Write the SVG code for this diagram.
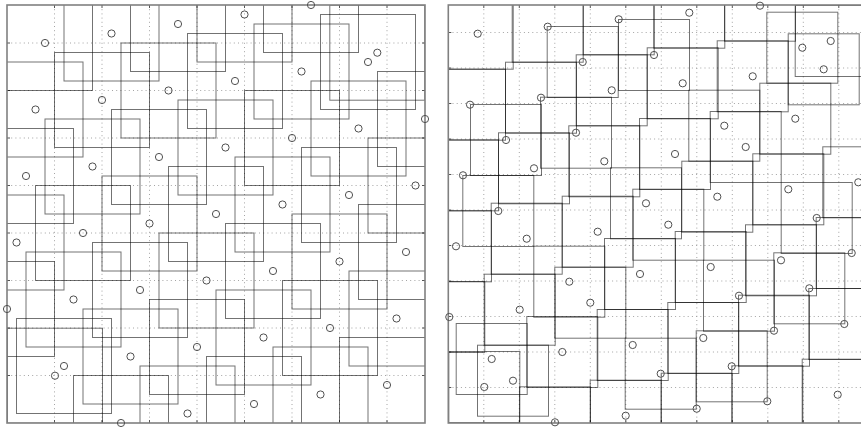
<svg xmlns="http://www.w3.org/2000/svg" xmlns:xlink="http://www.w3.org/1999/xlink" width="861" height="427" viewBox="0 0 861 427">
<style>
.grid{fill:none;stroke:#9a9a9a;stroke-width:0.9;stroke-dasharray:1 3.2}
.frame{fill:none;stroke:#808080;stroke-width:1.6}
.tick{fill:none;stroke:#555;stroke-width:1}
.sq{fill:none;stroke:#000;stroke-opacity:0.55;stroke-width:1}
.pt{fill:none;stroke:#505050;stroke-width:1}
</style>
<defs>
<clipPath id="clipL"><rect x="7" y="5" width="418" height="418"/></clipPath>
<clipPath id="clipR"><rect x="448.3" y="5" width="418" height="418"/></clipPath>
<rect id="sL" x="-47.5" y="-47.5" width="95" height="95"/>
<rect id="sR" x="-35.5" y="-35.5" width="71" height="71"/>
<circle id="c" cx="0" cy="0" r="3.6"/>
</defs>
<rect width="861" height="427" fill="#fff"/>

<!-- LEFT PANEL -->
<g id="left-panel">
<path class="grid" d="M54.5 5V423M102 5V423M149.5 5V423M197 5V423M244.5 5V423M292 5V423M339.5 5V423M387 5V423M7 375.5H425M7 328H425M7 280.5H425M7 233H425M7 185.5H425M7 138H425M7 90.5H425M7 43H425"/>
<path class="tick" d="M54.5 423v-3M102 423v-3M149.5 423v-3M197 423v-3M244.5 423v-3M292 423v-3M339.5 423v-3M387 423v-3M54.5 5v3M102 5v3M149.5 5v3M197 5v3M244.5 5v3M292 5v3M339.5 5v3M387 5v3M7 375.5h3M7 328h3M7 280.5h3M7 233h3M7 185.5h3M7 138h3M7 90.5h3M7 43h3M425 375.5h-3M425 328h-3M425 280.5h-3M425 233h-3M425 185.5h-3M425 138h-3M425 90.5h-3M425 43h-3"/>
<g class="sq" clip-path="url(#clipL)">
<use xlink:href="#sL" x="45" y="43"/><use xlink:href="#sL" x="35.5" y="109.5"/><use xlink:href="#sL" x="26" y="176"/><use xlink:href="#sL" x="16.5" y="242.5"/><use xlink:href="#sL" x="7" y="309"/>
<use xlink:href="#sL" x="111.5" y="33.5"/><use xlink:href="#sL" x="102" y="100"/><use xlink:href="#sL" x="92.5" y="166.5"/><use xlink:href="#sL" x="83" y="233"/><use xlink:href="#sL" x="73.5" y="299.5"/><use xlink:href="#sL" x="64" y="366"/>
<use xlink:href="#sL" x="178" y="24"/><use xlink:href="#sL" x="168.5" y="90.5"/><use xlink:href="#sL" x="159" y="157"/><use xlink:href="#sL" x="149.5" y="223.5"/><use xlink:href="#sL" x="140" y="290"/><use xlink:href="#sL" x="130.5" y="356.5"/><use xlink:href="#sL" x="121" y="423"/>
<use xlink:href="#sL" x="244.5" y="14.5"/><use xlink:href="#sL" x="235" y="81"/><use xlink:href="#sL" x="225.5" y="147.5"/><use xlink:href="#sL" x="216" y="214"/><use xlink:href="#sL" x="206.5" y="280.5"/><use xlink:href="#sL" x="197" y="347"/><use xlink:href="#sL" x="187.5" y="413.5"/>
<use xlink:href="#sL" x="311" y="5"/><use xlink:href="#sL" x="301.5" y="71.5"/><use xlink:href="#sL" x="292" y="138"/><use xlink:href="#sL" x="282.5" y="204.5"/><use xlink:href="#sL" x="273" y="271"/><use xlink:href="#sL" x="263.5" y="337.5"/><use xlink:href="#sL" x="254" y="404"/>
<use xlink:href="#sL" x="368" y="62"/><use xlink:href="#sL" x="358.5" y="128.5"/><use xlink:href="#sL" x="349" y="195"/><use xlink:href="#sL" x="339.5" y="261.5"/><use xlink:href="#sL" x="330" y="328"/><use xlink:href="#sL" x="320.5" y="394.5"/>
<use xlink:href="#sL" x="425" y="119"/><use xlink:href="#sL" x="415.5" y="185.5"/><use xlink:href="#sL" x="406" y="252"/><use xlink:href="#sL" x="396.5" y="318.5"/><use xlink:href="#sL" x="387" y="385"/>
<use xlink:href="#sL" x="377.3" y="52.7"/><use xlink:href="#sL" x="55" y="375.7"/>
</g>
<rect class="frame" x="7" y="5" width="418" height="418"/>
<g class="pt">
<use xlink:href="#c" x="45" y="43"/><use xlink:href="#c" x="35.5" y="109.5"/><use xlink:href="#c" x="26" y="176"/><use xlink:href="#c" x="16.5" y="242.5"/><use xlink:href="#c" x="7" y="309"/>
<use xlink:href="#c" x="111.5" y="33.5"/><use xlink:href="#c" x="102" y="100"/><use xlink:href="#c" x="92.5" y="166.5"/><use xlink:href="#c" x="83" y="233"/><use xlink:href="#c" x="73.5" y="299.5"/><use xlink:href="#c" x="64" y="366"/>
<use xlink:href="#c" x="178" y="24"/><use xlink:href="#c" x="168.5" y="90.5"/><use xlink:href="#c" x="159" y="157"/><use xlink:href="#c" x="149.5" y="223.5"/><use xlink:href="#c" x="140" y="290"/><use xlink:href="#c" x="130.5" y="356.5"/><use xlink:href="#c" x="121" y="423"/>
<use xlink:href="#c" x="244.5" y="14.5"/><use xlink:href="#c" x="235" y="81"/><use xlink:href="#c" x="225.5" y="147.5"/><use xlink:href="#c" x="216" y="214"/><use xlink:href="#c" x="206.5" y="280.5"/><use xlink:href="#c" x="197" y="347"/><use xlink:href="#c" x="187.5" y="413.5"/>
<use xlink:href="#c" x="311" y="5"/><use xlink:href="#c" x="301.5" y="71.5"/><use xlink:href="#c" x="292" y="138"/><use xlink:href="#c" x="282.5" y="204.5"/><use xlink:href="#c" x="273" y="271"/><use xlink:href="#c" x="263.5" y="337.5"/><use xlink:href="#c" x="254" y="404"/>
<use xlink:href="#c" x="368" y="62"/><use xlink:href="#c" x="358.5" y="128.5"/><use xlink:href="#c" x="349" y="195"/><use xlink:href="#c" x="339.5" y="261.5"/><use xlink:href="#c" x="330" y="328"/><use xlink:href="#c" x="320.5" y="394.5"/>
<use xlink:href="#c" x="425" y="119"/><use xlink:href="#c" x="415.5" y="185.5"/><use xlink:href="#c" x="406" y="252"/><use xlink:href="#c" x="396.5" y="318.5"/><use xlink:href="#c" x="387" y="385"/>
<use xlink:href="#c" x="377.3" y="52.7"/><use xlink:href="#c" x="55" y="375.7"/>
</g>
</g>

<!-- RIGHT PANEL -->
<g id="right-panel">
<path class="grid" d="M483.8 5V423M519.3 5V423M554.8 5V423M590.3 5V423M625.8 5V423M661.3 5V423M696.8 5V423M732.3 5V423M767.8 5V423M803.3 5V423M838.8 5V423M448.3 387.5H866M448.3 352H866M448.3 316.5H866M448.3 281H866M448.3 245.5H866M448.3 210H866M448.3 174.5H866M448.3 139H866M448.3 103.5H866M448.3 68H866M448.3 32.5H866"/>
<path class="tick" d="M483.8 423v-3M519.3 423v-3M554.8 423v-3M590.3 423v-3M625.8 423v-3M661.3 423v-3M696.8 423v-3M732.3 423v-3M767.8 423v-3M803.3 423v-3M838.8 423v-3M483.8 5v3M519.3 5v3M554.8 5v3M590.3 5v3M625.8 5v3M661.3 5v3M696.8 5v3M732.3 5v3M767.8 5v3M803.3 5v3M838.8 5v3M448.3 387.5h3M448.3 352h3M448.3 316.5h3M448.3 281h3M448.3 245.5h3M448.3 210h3M448.3 174.5h3M448.3 139h3M448.3 103.5h3M448.3 68h3M448.3 32.5h3"/>
<g class="sq" clip-path="url(#clipR)">
<use xlink:href="#sR" x="477.7" y="33.7"/><use xlink:href="#sR" x="547.7" y="26.7"/><use xlink:href="#sR" x="618.7" y="19.3"/><use xlink:href="#sR" x="582.7" y="62"/><use xlink:href="#sR" x="611.7" y="90.3"/><use xlink:href="#sR" x="541" y="97.7"/><use xlink:href="#sR" x="470" y="104.7"/><use xlink:href="#sR" x="576" y="132.7"/><use xlink:href="#sR" x="506" y="140"/><use xlink:href="#sR" x="604.3" y="161.3"/><use xlink:href="#sR" x="534" y="168.3"/><use xlink:href="#sR" x="463" y="175.3"/><use xlink:href="#sR" x="498.3" y="211"/><use xlink:href="#sR" x="646" y="203.3"/>
<use xlink:href="#sR" x="689.3" y="12.7"/><use xlink:href="#sR" x="760" y="5.7"/><use xlink:href="#sR" x="654" y="55"/><use xlink:href="#sR" x="682.7" y="83.3"/><use xlink:href="#sR" x="752.7" y="76.3"/><use xlink:href="#sR" x="802.3" y="47.7"/><use xlink:href="#sR" x="830.7" y="41"/><use xlink:href="#sR" x="823.7" y="69.3"/><use xlink:href="#sR" x="724.3" y="125.7"/><use xlink:href="#sR" x="795.3" y="118.7"/><use xlink:href="#sR" x="745.7" y="147"/><use xlink:href="#sR" x="675" y="154"/><use xlink:href="#sR" x="717.3" y="196.7"/><use xlink:href="#sR" x="788.3" y="189.3"/><use xlink:href="#sR" x="858.3" y="182.3"/>
<use xlink:href="#sR" x="526.7" y="238.7"/><use xlink:href="#sR" x="597.7" y="231.7"/><use xlink:href="#sR" x="456" y="246.3"/><use xlink:href="#sR" x="640" y="274"/><use xlink:href="#sR" x="569.3" y="281.7"/><use xlink:href="#sR" x="590.3" y="302.7"/><use xlink:href="#sR" x="519.7" y="309.7"/><use xlink:href="#sR" x="449.3" y="317"/><use xlink:href="#sR" x="632.7" y="345"/><use xlink:href="#sR" x="562.3" y="352"/><use xlink:href="#sR" x="491.7" y="359"/><use xlink:href="#sR" x="513" y="380.7"/><use xlink:href="#sR" x="484.3" y="387"/><use xlink:href="#sR" x="555" y="422.3"/><use xlink:href="#sR" x="625.7" y="415.7"/>
<use xlink:href="#sR" x="668.3" y="224.7"/><use xlink:href="#sR" x="816.7" y="218"/><use xlink:href="#sR" x="851.7" y="253"/><use xlink:href="#sR" x="781" y="260.3"/><use xlink:href="#sR" x="710.7" y="267"/><use xlink:href="#sR" x="809.3" y="288.3"/><use xlink:href="#sR" x="739" y="295.7"/><use xlink:href="#sR" x="844.3" y="324"/><use xlink:href="#sR" x="774" y="330.7"/><use xlink:href="#sR" x="703.3" y="338"/><use xlink:href="#sR" x="660.7" y="373.7"/><use xlink:href="#sR" x="731.7" y="366.3"/><use xlink:href="#sR" x="767.3" y="401.3"/><use xlink:href="#sR" x="696.7" y="408.7"/><use xlink:href="#sR" x="837.7" y="394.7"/>
</g>
<rect class="frame" x="448.3" y="5" width="418" height="418"/>
<g class="pt">
<use xlink:href="#c" x="477.7" y="33.7"/><use xlink:href="#c" x="547.7" y="26.7"/><use xlink:href="#c" x="618.7" y="19.3"/><use xlink:href="#c" x="582.7" y="62"/><use xlink:href="#c" x="611.7" y="90.3"/><use xlink:href="#c" x="541" y="97.7"/><use xlink:href="#c" x="470" y="104.7"/><use xlink:href="#c" x="576" y="132.7"/><use xlink:href="#c" x="506" y="140"/><use xlink:href="#c" x="604.3" y="161.3"/><use xlink:href="#c" x="534" y="168.3"/><use xlink:href="#c" x="463" y="175.3"/><use xlink:href="#c" x="498.3" y="211"/><use xlink:href="#c" x="646" y="203.3"/>
<use xlink:href="#c" x="689.3" y="12.7"/><use xlink:href="#c" x="760" y="5.7"/><use xlink:href="#c" x="654" y="55"/><use xlink:href="#c" x="682.7" y="83.3"/><use xlink:href="#c" x="752.7" y="76.3"/><use xlink:href="#c" x="802.3" y="47.7"/><use xlink:href="#c" x="830.7" y="41"/><use xlink:href="#c" x="823.7" y="69.3"/><use xlink:href="#c" x="724.3" y="125.7"/><use xlink:href="#c" x="795.3" y="118.7"/><use xlink:href="#c" x="745.7" y="147"/><use xlink:href="#c" x="675" y="154"/><use xlink:href="#c" x="717.3" y="196.7"/><use xlink:href="#c" x="788.3" y="189.3"/><use xlink:href="#c" x="858.3" y="182.3"/>
<use xlink:href="#c" x="526.7" y="238.7"/><use xlink:href="#c" x="597.7" y="231.7"/><use xlink:href="#c" x="456" y="246.3"/><use xlink:href="#c" x="640" y="274"/><use xlink:href="#c" x="569.3" y="281.7"/><use xlink:href="#c" x="590.3" y="302.7"/><use xlink:href="#c" x="519.7" y="309.7"/><use xlink:href="#c" x="449.3" y="317"/><use xlink:href="#c" x="632.7" y="345"/><use xlink:href="#c" x="562.3" y="352"/><use xlink:href="#c" x="491.7" y="359"/><use xlink:href="#c" x="513" y="380.7"/><use xlink:href="#c" x="484.3" y="387"/><use xlink:href="#c" x="555" y="422.3"/><use xlink:href="#c" x="625.7" y="415.7"/>
<use xlink:href="#c" x="668.3" y="224.7"/><use xlink:href="#c" x="816.7" y="218"/><use xlink:href="#c" x="851.7" y="253"/><use xlink:href="#c" x="781" y="260.3"/><use xlink:href="#c" x="710.7" y="267"/><use xlink:href="#c" x="809.3" y="288.3"/><use xlink:href="#c" x="739" y="295.7"/><use xlink:href="#c" x="844.3" y="324"/><use xlink:href="#c" x="774" y="330.7"/><use xlink:href="#c" x="703.3" y="338"/><use xlink:href="#c" x="660.7" y="373.7"/><use xlink:href="#c" x="731.7" y="366.3"/><use xlink:href="#c" x="767.3" y="401.3"/><use xlink:href="#c" x="696.7" y="408.7"/><use xlink:href="#c" x="837.7" y="394.7"/>
</g>
</g>
</svg>
